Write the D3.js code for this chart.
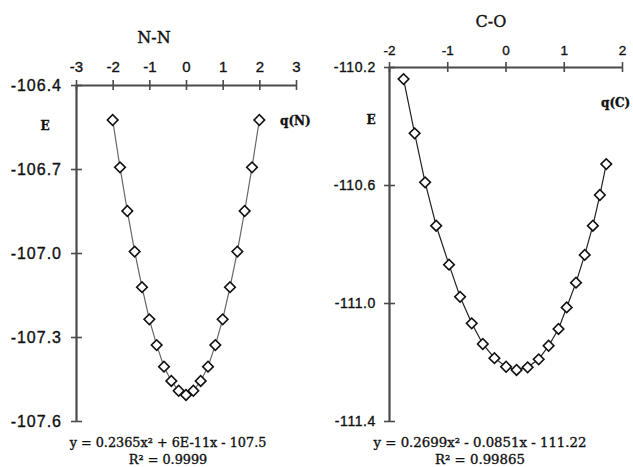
<!DOCTYPE html>
<html>
<head>
<meta charset="utf-8">
<title>N-N and C-O energy curves</title>
<script src="https://d3js.org/d3.v7.min.js"></script>
<style>
  body { margin: 0; background: #fff; }
  svg { display: block; font-family: "DejaVu Serif", "Liberation Serif", serif; }
  svg text { fill: #111; stroke: #111; stroke-width: 0.35px; }
  .axis path, .axis line { stroke: #4a4a4a; }
  .axis path { stroke-width: 2.2; }
  .axis line { stroke-width: 1.6; }
</style>
</head>
<body>
<svg id="chart" width="633" height="467"></svg>
<script>
// N-N panel
const nnQ = [-2, -1.8, -1.6, -1.4, -1.2, -1.0, -0.8, -0.6, -0.4, -0.2, 0,
             0.2, 0.4, 0.6, 0.8, 1.0, 1.2, 1.4, 1.6, 1.8, 2];
const nnE = [-106.525, -106.694, -106.85, -106.995, -107.122, -107.237, -107.329, -107.406, -107.457, -107.492, -107.507,
             -107.492, -107.457, -107.406, -107.329, -107.237, -107.122, -106.995, -106.85, -106.694, -106.525];
const nnXTicks = [-3, -2, -1, 0, 1, 2, 3];
const nnYTicks = [-106.4, -106.7, -107.0, -107.3, -107.6];

// C-O panel
const coQ = [-1.75, -1.56, -1.38, -1.19, -0.97, -0.78, -0.58, -0.39, -0.19, 0.01, 0.19,
             0.38, 0.57, 0.74, 0.91, 1.05, 1.21, 1.36, 1.5, 1.62, 1.73];
const coE = [-110.241, -110.425, -110.591, -110.738, -110.870, -110.979, -111.069, -111.139, -111.187, -111.216, -111.227,
             -111.218, -111.191, -111.145, -111.088, -111.015, -110.931, -110.837, -110.738, -110.634, -110.529];
const coXTicks = [-2, -1, 0, 1, 2];
const coYTicks = [-110.2, -110.6, -111.0, -111.4];

const svg = d3.select("#chart");

function drawPanel(cfg) {
  const x = d3.scaleLinear().domain(cfg.xDomain).range(cfg.xRange);
  const y = d3.scaleLinear().domain(cfg.yDomain).range(cfg.yRange);
  const x0 = cfg.xRange[0], y0 = cfg.yRange[0];

  // x axis on top, ticks crossing
  const gx = svg.append("g").attr("class", "axis").attr("transform", `translate(0,${y0})`)
    .call(d3.axisTop(x).tickValues(cfg.xTicks).tickSize(5).tickSizeOuter(0).tickPadding(cfg.xPad));
  gx.selectAll("text").style("font-size", cfg.xFont + "px").text(d => String(d));
  svg.append("g").attr("class", "axis").attr("transform", `translate(0,${y0})`)
    .call(d3.axisBottom(x).tickValues(cfg.xTicks).tickSize(5).tickSizeOuter(0).tickFormat(""))
    .select(".domain").remove();

  // y axis on the left, ticks crossing
  const gy = svg.append("g").attr("class", "axis").attr("transform", `translate(${x0},0)`)
    .call(d3.axisLeft(y).tickValues(cfg.yTicks).tickSize(5).tickSizeOuter(0).tickPadding(cfg.yPad));
  gy.selectAll("text")
    .style("font-size", cfg.yFont + "px")
    .style("letter-spacing", cfg.ySpace + "px")
    .text(d => d.toFixed(1));
  svg.append("g").attr("class", "axis").attr("transform", `translate(${x0},0)`)
    .call(d3.axisRight(y).tickValues(cfg.yTicks).tickSize(6).tickSizeOuter(0).tickFormat(""))
    .select(".domain").remove();

  const pts = cfg.q.map((q, i) => [q, cfg.e[i]]);
  svg.append("path")
    .datum(pts)
    .attr("fill", "none")
    .attr("stroke", cfg.lineColor)
    .attr("stroke-width", 1.2)
    .attr("d", d3.line().x(d => x(d[0])).y(d => y(d[1])));

  svg.append("g").selectAll("path")
    .data(pts)
    .join("path")
    .attr("d", d3.symbol(d3.symbolSquare, 56))
    .attr("transform", d => `translate(${x(d[0])},${y(d[1])}) rotate(45)`)
    .attr("fill", "#fff")
    .attr("stroke", "#111")
    .attr("stroke-width", 1.6);

  svg.append("text").attr("x", cfg.title[1]).attr("y", cfg.title[2])
    .attr("text-anchor", "middle").style("font-size", "16px").text(cfg.title[0]);
  svg.append("text").attr("x", cfg.eLab[0]).attr("y", cfg.eLab[1])
    .attr("text-anchor", "middle").style("font-size", "12px").style("font-weight", "bold").text("E");
  svg.append("text").attr("x", cfg.qLab[1]).attr("y", cfg.qLab[2])
    .style("font-size", "12px").style("font-weight", "bold").text(cfg.qLab[0]);

  cfg.eq.forEach((t, i) => {
    svg.append("text").attr("x", cfg.eqX).attr("y", 447 + i * 17)
      .attr("text-anchor", "middle").style("font-size", cfg.eqFont + "px").text(t);
  });
}

drawPanel({
  q: nnQ, e: nnE, xTicks: nnXTicks, yTicks: nnYTicks,
  xDomain: [-3, 3], xRange: [76, 296], yDomain: [-106.4, -107.6], yRange: [85, 421],
  xFont: 15, yFont: 16, ySpace: 1, xPad: 8, yPad: 9,
  lineColor: "#666",
  title: ["N-N", 154, 43], eLab: [45, 130], qLab: ["q(N)", 280, 125],
  eq: ["y = 0.2365x² + 6E-11x - 107.5", "R² = 0.9999"], eqX: 168, eqFont: 12.8
});

drawPanel({
  q: coQ, e: coE, xTicks: coXTicks, yTicks: coYTicks,
  xDomain: [-2, 2], xRange: [389, 622], yDomain: [-110.2, -111.4], yRange: [67, 421],
  xFont: 13.5, yFont: 14, ySpace: 0.6, xPad: 7, yPad: 8,
  lineColor: "#222",
  title: ["C-O", 491, 27], eLab: [371, 124], qLab: ["q(C)", 601, 107],
  eq: ["y = 0.2699x² - 0.0851x - 111.22", "R² = 0.99865"], eqX: 480, eqFont: 13.3
});
</script>
</body>
</html>
